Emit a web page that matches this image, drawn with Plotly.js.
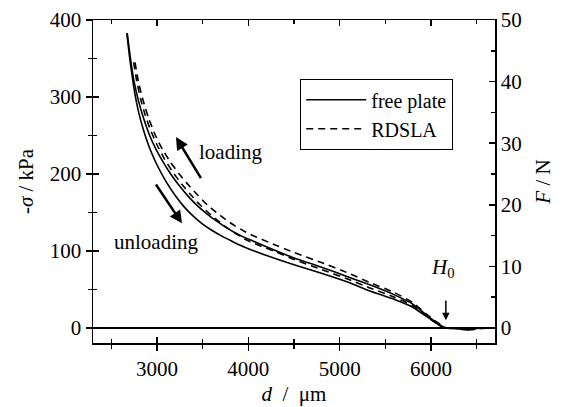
<!DOCTYPE html>
<html>
<head>
<meta charset="utf-8">
<script src="https://cdn.plot.ly/plotly-3.0.1.min.js"></script>
<style>html,body{margin:0;padding:0;background:#fff;}#chart{width:564px;height:407px;}</style>
</head>
<body>
<div id="chart"></div>
<script>
// free plate, unloading (solid)
const fuD = [2670, 2700, 2730, 2760, 2800, 2850, 2900, 2950, 3000, 3100, 3200, 3300, 3400, 3500, 3600, 3700, 3800, 3900, 4000, 4200, 4500, 4800, 5100, 5330, 5600, 5800, 5950, 6060, 6140, 6300, 6340, 6470, 6500, 6700];
const fuS = [383, 352, 326, 303, 280, 258, 240, 225, 212, 190, 172, 157, 145, 135, 127, 120, 114, 108, 103, 94, 82, 71, 59, 48, 37, 27, 15, 6, 0, 0, -2, -2, 0, 0];
// RDSLA, unloading (dashed)
const ruD = [2745, 2780, 2820, 2870, 2930, 3000, 3080, 3170, 3270, 3370, 3470, 3570, 3670, 3770, 3870, 3970, 4100, 4300, 4500, 4800, 5100, 5330, 5600, 5800, 5950, 6060, 6150, 6360, 6380, 6450, 6470, 6700];
const ruS = [345, 320, 298, 277, 257, 238, 220, 203, 187, 173, 160, 149, 139, 130, 122, 115, 108, 99, 89, 76, 63, 52, 40, 29, 15, 6, 0, 0, -2, -2, 0, 0];
// free plate, loading (solid)
const flD = [2675, 2710, 2750, 2800, 2860, 2920, 2990, 3060, 3150, 3250, 3350, 3450, 3550, 3650, 3750, 3850, 3950, 4050, 4250, 4500, 4800, 5100, 5330, 5600, 5800, 5950, 6060, 6160, 6700];
const flS = [383, 350, 320, 294, 270, 250, 232, 217, 200, 184, 170, 158, 148, 139, 131, 124, 118, 113, 103, 91, 79, 66, 56, 43, 31, 17, 7, 0, 0];
// RDSLA, loading (dashed)
const rlD = [2760, 2800, 2850, 2910, 2980, 3060, 3150, 3250, 3350, 3450, 3550, 3650, 3750, 3850, 3950, 4050, 4250, 4500, 4800, 5100, 5330, 5600, 5800, 5950, 6060, 6170, 6700];
const rlS = [345, 318, 295, 272, 251, 232, 215, 199, 185, 172, 160, 150, 141, 133, 126, 120, 110, 98, 85, 71, 59, 46, 33, 18, 8, 0, 0];

const seriesNames = ["free plate", "RDSLA"];
const xRange = [2300, 6700];
const yRange = [-19.5, 400];
const kPaPerN = 8;
const fRange = [yRange[0] / kPaPerN, yRange[1] / kPaPerN];

const FONT = "Liberation Serif";
const lw = 1.6;
const dashStyle = "7px,5px";
const curveLine = (dash) => ({color: "black", width: lw, dash: dash, shape: "spline", smoothing: 0.5});

const traces = [
  {x: fuD, y: fuS, mode: "lines", name: seriesNames[0], line: curveLine("solid"), showlegend: true},
  {x: ruD, y: ruS, mode: "lines", name: seriesNames[1], line: curveLine(dashStyle), showlegend: true},
  {x: flD, y: flS, mode: "lines", name: seriesNames[0], line: curveLine("solid"), showlegend: false},
  {x: rlD, y: rlS, mode: "lines", name: seriesNames[1], line: curveLine(dashStyle), showlegend: false},
  // invisible helpers so the extra axes (force axis F = sigma / 8, tick copies) get drawn
  {x: fuD, y: fuS.map(v => v / kPaPerN), yaxis: "y2", mode: "lines", line: {width: 0}, opacity: 0, showlegend: false, hoverinfo: "skip"},
  {x: fuD, y: fuS, xaxis: "x2", mode: "lines", line: {width: 0}, opacity: 0, showlegend: false, hoverinfo: "skip"},
  {x: fuD, y: fuS, yaxis: "y3", mode: "lines", line: {width: 0}, opacity: 0, showlegend: false, hoverinfo: "skip"}
];

const tickFont = {family: FONT, size: 21, color: "black"};
const titleFont = {family: FONT, size: 21, color: "black"};

const layout = {
  width: 564, height: 407,
  margin: {l: 93, r: 69, t: 20, b: 64},
  paper_bgcolor: "white", plot_bgcolor: "white",
  font: {family: FONT, color: "black", size: 20},
  showlegend: true,
  legend: {
    x: 0.515, y: 0.817, xanchor: "left", yanchor: "top",
    bordercolor: "black", borderwidth: 1.2, bgcolor: "white",
    font: {family: FONT, size: 20, color: "black"},
    itemwidth: 60, tracegroupgap: 0
  },
  xaxis: {
    range: xRange, showgrid: false, zeroline: false,
    showline: true, linecolor: "black", linewidth: 1.5, mirror: true,
    ticks: "outside", ticklen: 6, tickwidth: 1.5, tickcolor: "black",
    dtick: 1000, tick0: 0,
    minor: {dtick: 500, ticks: "outside", ticklen: 4, tickwidth: 1.5, tickcolor: "black"},
    tickfont: tickFont,
    title: {text: "<i>d</i>  /  μm", font: titleFont, standoff: 6}
  },
  xaxis2: {
    range: xRange, overlaying: "x", anchor: "y", side: "bottom",
    showgrid: false, zeroline: false, showline: false, showticklabels: false,
    ticks: "inside", ticklen: 6, tickwidth: 1.5, tickcolor: "black", mirror: "ticks",
    dtick: 1000, tick0: 0,
    minor: {dtick: 500, ticks: "inside", ticklen: 4, tickwidth: 1.5, tickcolor: "black"}
  },
  yaxis: {
    range: yRange, showgrid: false,
    zeroline: true, zerolinecolor: "black", zerolinewidth: 1.5,
    showline: true, linecolor: "black", linewidth: 1.5,
    ticks: "outside", ticklen: 6, tickwidth: 1.5, tickcolor: "black",
    dtick: 100, tick0: 0,
    minor: {dtick: 50, ticks: "outside", ticklen: 4, tickwidth: 1.5, tickcolor: "black"},
    tickfont: tickFont,
    title: {text: "-<i>σ</i> / kPa", font: titleFont, standoff: 10}
  },
  yaxis3: {
    range: yRange, overlaying: "y", anchor: "x", side: "left",
    showgrid: false, zeroline: false, showline: false, showticklabels: false,
    ticks: "inside", ticklen: 6, tickwidth: 1.5, tickcolor: "black",
    dtick: 100, tick0: 0,
    minor: {dtick: 50, ticks: "inside", ticklen: 4, tickwidth: 1.5, tickcolor: "black"}
  },
  yaxis2: {
    range: fRange, overlaying: "y", anchor: "x", side: "right",
    showgrid: false, zeroline: false,
    showline: true, linecolor: "black", linewidth: 1.5,
    ticks: "inside", ticklen: 6, tickwidth: 1.5, tickcolor: "black",
    dtick: 10, tick0: 0,
    minor: {dtick: 5, ticks: "inside", ticklen: 4, tickwidth: 1.5, tickcolor: "black"},
    tickfont: tickFont,
    title: {text: "<i>F</i> / N", font: titleFont, standoff: 14}
  },
  annotations: [
    {x: 3208, y: 248, ax: 3525, ay: 186, axref: "x", ayref: "y", xref: "x", yref: "y",
     showarrow: true, arrowhead: 2, arrowsize: 1, arrowwidth: 2.5, arrowcolor: "black", text: " "},
    {x: 3274, y: 136, ax: 2945, ay: 194, axref: "x", ayref: "y", xref: "x", yref: "y",
     showarrow: true, arrowhead: 2, arrowsize: 1, arrowwidth: 2.5, arrowcolor: "black", text: " "},
    {x: 6162, y: 10, ax: 6162, ay: 52, axref: "x", ayref: "y", xref: "x", yref: "y",
     showarrow: true, arrowhead: 2, arrowsize: 1, arrowwidth: 1.5, arrowcolor: "black", text: " "},
    {x: 3810, y: 229, xref: "x", yref: "y", text: "loading", showarrow: false, font: titleFont},
    {x: 2990, y: 112, xref: "x", yref: "y", text: "unloading", showarrow: false, font: titleFont},
    {x: 6130, y: 78, xref: "x", yref: "y", text: "<i>H</i><sub>0</sub>", showarrow: false, font: titleFont}
  ]
};

Plotly.newPlot("chart", traces, layout, {displayModeBar: false, staticPlot: true});
</script>
</body>
</html>
